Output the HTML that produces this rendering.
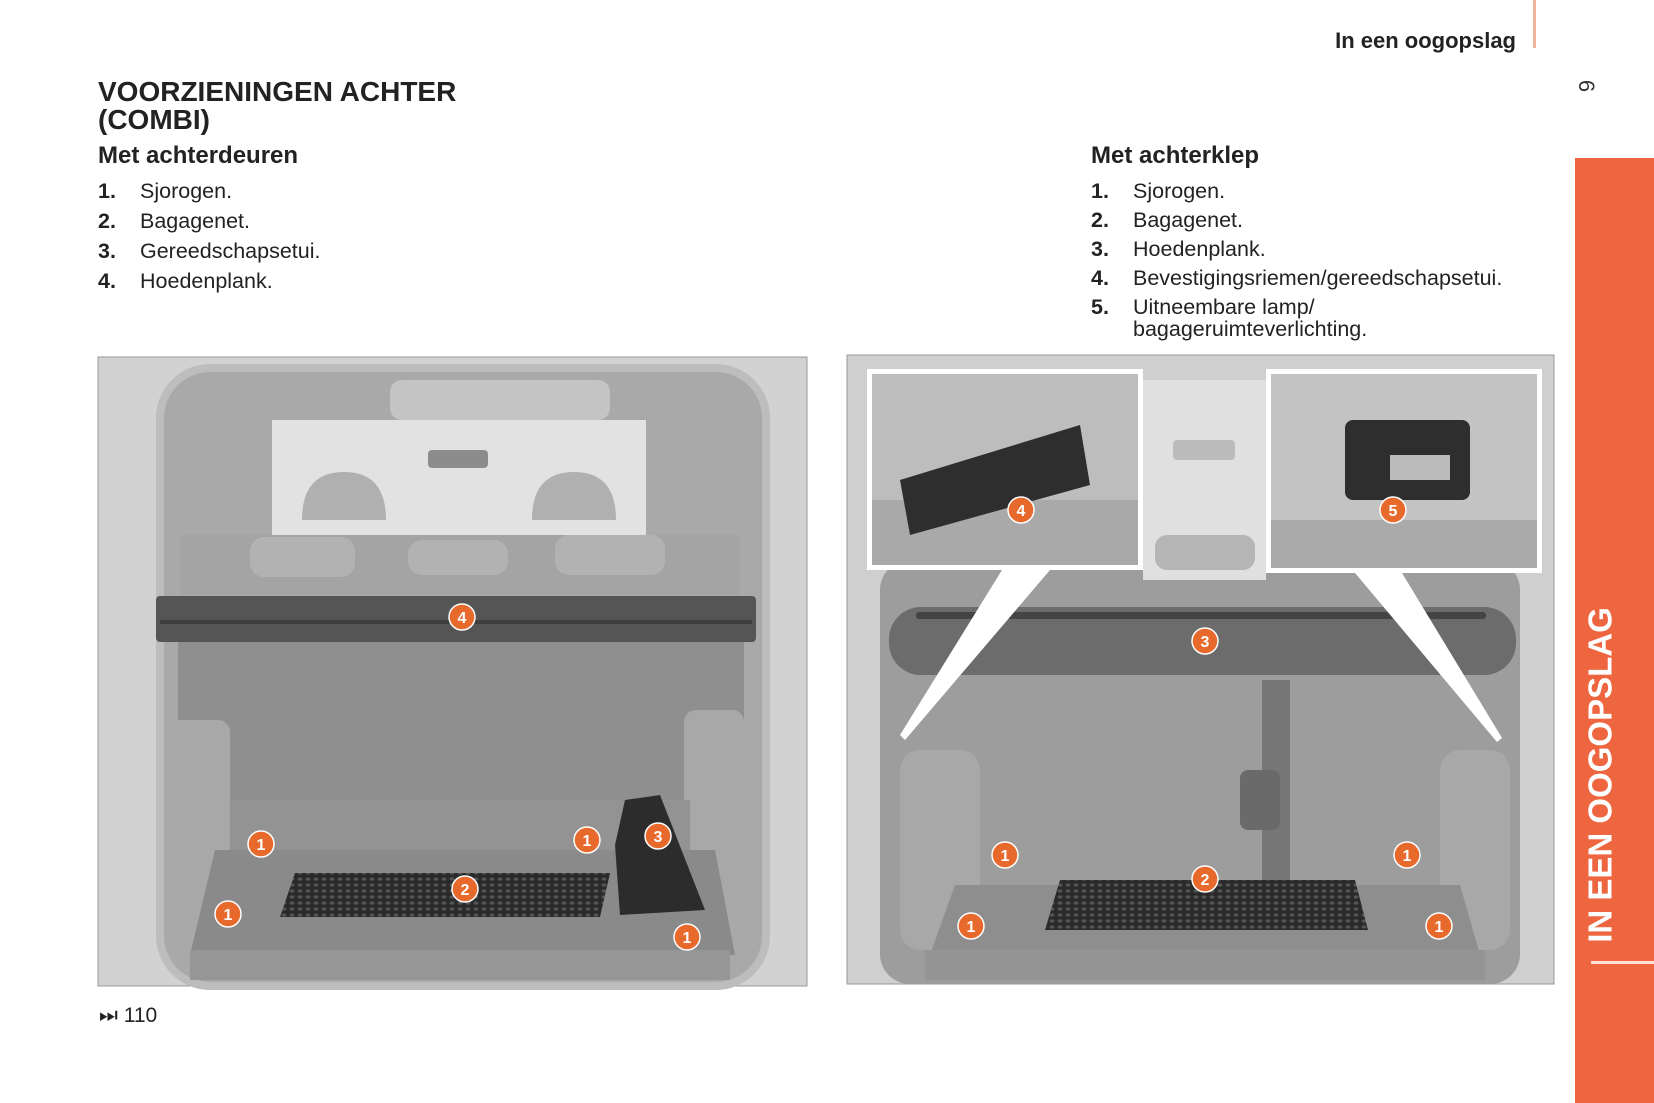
<!DOCTYPE html>
<html><head><meta charset="utf-8"><style>
body{margin:0;width:1654px;height:1103px;background:#fff;position:relative;overflow:hidden;font-family:"Liberation Sans",Arial,sans-serif;color:#222}
.a{position:absolute;white-space:nowrap}
.t{font-weight:bold;font-size:28px;line-height:28px}
.h{font-weight:bold;font-size:24px}
.li{font-size:21.5px;line-height:30px}
.li b{display:inline-block;width:42px}
</style></head><body>
<svg class="a" style="left:0;top:0" width="1654" height="1103">
<defs>
<pattern id="net" width="8" height="6" patternUnits="userSpaceOnUse"><rect width="8" height="6" fill="#2a2a2a"/><ellipse cx="4" cy="3" rx="2.5" ry="1.6" fill="#555"/></pattern>
<g id="c"><circle r="13" fill="#e8692c" stroke="#fff" stroke-width="1.5"/></g>
</defs>
<rect x="1533" y="0" width="3" height="48" fill="#f0b49c"/>
<rect x="1575" y="158" width="79" height="945" fill="#ee6640"/>
<rect x="1591" y="961" width="63" height="3" fill="#fff" opacity=".8"/>
<g>
<rect x="98" y="357" width="709" height="629" fill="#d2d2d2" stroke="#999"/>
<rect x="160" y="368" width="606" height="618" rx="50" fill="#a9a9a9" stroke="#bdbdbd" stroke-width="8"/>
<rect x="272" y="420" width="374" height="118" fill="#e2e2e2"/>
<rect x="390" y="380" width="220" height="40" rx="12" fill="#c4c4c4"/>
<rect x="428" y="450" width="60" height="18" rx="4" fill="#8c8c8c"/>
<path d="M302 520 q0-48 42-48 q42 0 42 48z M532 520 q0-48 42-48 q42 0 42 48z" fill="#b0b0b0"/>
<rect x="180" y="535" width="560" height="60" fill="#a4a4a4"/>
<rect x="250" y="537" width="105" height="40" rx="14" fill="#b2b2b2"/>
<rect x="408" y="540" width="100" height="35" rx="14" fill="#b2b2b2"/>
<rect x="555" y="535" width="110" height="40" rx="14" fill="#b2b2b2"/>
<rect x="156" y="596" width="600" height="46" rx="4" fill="#555"/>
<rect x="160" y="620" width="592" height="4" fill="#3e3e3e"/>
<rect x="178" y="642" width="566" height="170" fill="#8f8f8f"/>
<rect x="168" y="720" width="62" height="200" rx="12" fill="#a8a8a8"/>
<rect x="684" y="710" width="60" height="200" rx="12" fill="#a8a8a8"/>
<rect x="230" y="800" width="460" height="50" fill="#939393"/>
<polygon points="215,850 715,850 735,955 190,955" fill="#8a8a8a"/>
<rect x="190" y="950" width="540" height="30" fill="#969696"/>
<polygon points="295,873 610,873 600,917 280,917" fill="url(#net)"/>
<polygon points="625,800 660,795 705,910 620,915 615,845" fill="#2c2c2c"/>
<use href="#c" x="462" y="617"/><use href="#c" x="261" y="844"/><use href="#c" x="228" y="914"/><use href="#c" x="465" y="889"/><use href="#c" x="587" y="840"/><use href="#c" x="658" y="836"/><use href="#c" x="687" y="937"/>
</g>
<g>
<rect x="847" y="355" width="707" height="629" fill="#cfcfcf" stroke="#999"/>
<rect x="880" y="560" width="640" height="424" rx="30" fill="#9d9d9d"/>
<rect x="1143" y="380" width="123" height="200" fill="#e0e0e0"/>
<rect x="1173" y="440" width="62" height="20" rx="4" fill="#bbb"/>
<rect x="1155" y="535" width="100" height="35" rx="12" fill="#b5b5b5"/>
<rect x="889" y="607" width="627" height="68" rx="32" fill="#6c6c6c"/>
<rect x="916" y="612" width="570" height="7" rx="3" fill="#444"/>
<rect x="1262" y="680" width="28" height="200" fill="#777"/>
<rect x="1240" y="770" width="40" height="60" rx="8" fill="#6a6a6a"/>
<rect x="900" y="750" width="80" height="200" rx="20" fill="#a8a8a8"/>
<rect x="1440" y="750" width="70" height="200" rx="20" fill="#a8a8a8"/>
<polygon points="955,885 1460,885 1480,955 930,955" fill="#8e8e8e"/>
<rect x="925" y="950" width="560" height="30" fill="#949494"/>
<polygon points="1060,880 1355,880 1368,930 1045,930" fill="url(#net)"/>
<rect x="867" y="369" width="276" height="201" fill="#fff"/>
<rect x="872" y="374" width="266" height="191" fill="#bdbdbd"/>
<rect x="872" y="500" width="266" height="65" fill="#a9a9a9"/>
<polygon points="900,480 1080,425 1090,485 910,535" fill="#2e2e2e"/>
<rect x="1266" y="369" width="276" height="204" fill="#fff"/>
<rect x="1271" y="374" width="266" height="194" fill="#c3c3c3"/>
<rect x="1271" y="520" width="266" height="48" fill="#aaa"/>
<rect x="1345" y="420" width="125" height="80" rx="8" fill="#2e2e2e"/>
<rect x="1390" y="455" width="60" height="25" fill="#bbb"/>
<polygon points="1002,570 1050,570 905,740 900,735" fill="#fff"/>
<polygon points="1355,573 1402,573 1502,738 1497,742" fill="#fff"/>
<use href="#c" x="1021" y="510"/><use href="#c" x="1393" y="510"/><use href="#c" x="1205" y="641"/><use href="#c" x="1005" y="855"/><use href="#c" x="1205" y="879"/><use href="#c" x="1407" y="855"/><use href="#c" x="971" y="926"/><use href="#c" x="1439" y="926"/>
</g>
<g font-family="Liberation Sans,Arial,sans-serif" font-weight="bold" font-size="16" fill="#fff" text-anchor="middle">
<text x="462" y="623">4</text><text x="261" y="850">1</text><text x="228" y="920">1</text><text x="465" y="895">2</text><text x="587" y="846">1</text><text x="658" y="842">3</text><text x="687" y="943">1</text>
<text x="1021" y="516">4</text><text x="1393" y="516">5</text><text x="1205" y="647">3</text><text x="1005" y="861">1</text><text x="1205" y="885">2</text><text x="1407" y="861">1</text><text x="971" y="932">1</text><text x="1439" y="932">1</text>
</g>
<text x="1603" y="775" transform="rotate(-90 1603 775)" text-anchor="middle" dominant-baseline="middle" font-family="Liberation Sans,Arial,sans-serif" font-weight="bold" font-size="33" fill="#fff">IN EEN OOGOPSLAG</text>
<text x="1585" y="86" transform="rotate(90 1585 86)" text-anchor="middle" dominant-baseline="middle" font-family="Liberation Sans,Arial,sans-serif" font-size="22" fill="#333">6</text>
</svg>
<div class="a" style="right:138px;top:28px;font-weight:bold;font-size:22px">In een oogopslag</div>
<div class="a t" style="left:98px;top:78px">VOORZIENINGEN ACHTER<br>(COMBI)</div>
<div class="a h" style="left:98px;top:142px">Met achterdeuren</div>
<div class="a li" style="left:98px;top:176px"><b>1.</b>Sjorogen.<br><b>2.</b>Bagagenet.<br><b>3.</b>Gereedschapsetui.<br><b>4.</b>Hoedenplank.</div>
<div class="a h" style="left:1091px;top:142px">Met achterklep</div>
<div class="a li" style="left:1091px;top:177px;line-height:29px"><b>1.</b>Sjorogen.<br><b>2.</b>Bagagenet.<br><b>3.</b>Hoedenplank.<br><b>4.</b>Bevestigingsriemen/gereedschapsetui.<br><b>5.</b>Uitneembare lamp/</div>
<div class="a li" style="left:1133px;top:318px;line-height:22px">bagageruimteverlichting.</div>
<div class="a" style="left:99px;top:1004px;font-size:21px">⏭ 110</div>
</body></html>
